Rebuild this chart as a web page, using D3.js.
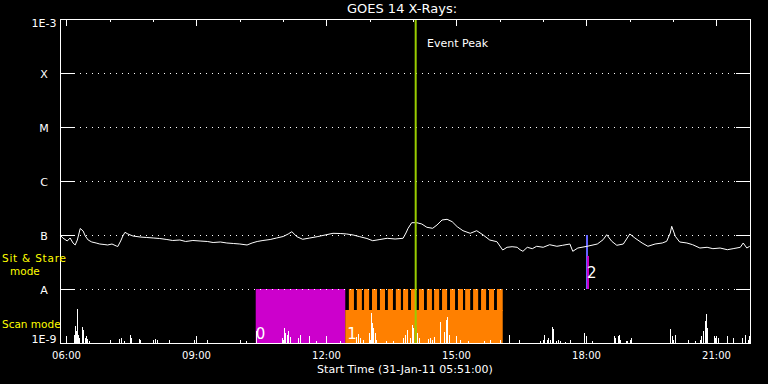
<!DOCTYPE html>
<html>
<head>
<meta charset="utf-8">
<script src="https://cdn.jsdelivr.net/npm/d3@7"></script>
<style>
  body { margin: 0; background: #000; }
  svg { display: block; font-family: "DejaVu Sans", sans-serif; }
</style>
</head>
<body>
<svg id="chart" width="768" height="384"></svg>
<script>
const startTime = new Date(2011, 0, 31, 5, 51, 0);
const spanMinutes = 955.4;

// GOES 14 long channel: minutes after start, flux in 1e-8 W m^-2
const xrayMin = [0,4,10,14,18,21,24,28,32,35,39,44,50,55,61,66,72,78,80,84,
  87,90,94,101,111,120,129,138,148,156,166,174,184,194,204,212,222,231,240,249,
  259,266,273,281,291,300,309,316,321,328,336,346,356,367,378,388,397,406,415,425,
  433,443,453,464,475,479,482,487,494,501,508,516,522,529,536,543,550,558,568,577,
  586,595,605,613,619,626,633,637,641,647,654,660,669,678,688,696,706,710,717,730,
  744,752,757,764,771,780,789,796,806,814,824,834,840,845,847,852,858,868,876,886,
  896,904,914,924,932,942,946,951,955];
const xrayFlux = [10.0,8.80,7.74,8.80,7.11,6.53,8.08,13.2,11.86,9.58,
  8.08,7.42,7.11,6.81,6.67,6.53,6.81,6.26,6.12,7.74,
  9.58,11.22,10.44,9.58,9.18,8.99,8.80,8.61,8.25,7.91,
  8.08,7.58,7.91,7.74,7.58,7.26,7.42,7.11,6.96,6.81,
  6.53,7.11,7.58,7.91,8.25,8.80,9.38,10.44,11.51,9.30,
  8.33,8.80,9.30,10.0,10.75,10.66,10.44,10.0,9.30,8.61,
  7.84,8.25,8.69,8.43,8.69,10.89,13.31,16.90,16.90,15.98,
  13.88,13.31,15.32,18.96,19.53,17.63,14.24,12.01,10.75,12.01,
  10.0,8.08,7.51,5.27,5.92,6.07,5.92,5.34,4.99,5.92,
  5.58,6.18,5.92,6.61,6.18,6.45,6.81,4.99,5.74,6.18,
  6.81,8.18,10.13,7.64,6.45,6.81,10.44,8.80,7.11,6.18,
  6.81,7.11,7.64,10.89,14.49,9.46,7.42,7.11,6.61,5.74,
  5.92,5.58,5.74,5.34,5.58,5.92,7.11,5.74,6.18];

// bottom strip spikes: minutes after start, height in % of one decade
const spikeMin = [19,21,22,24,25,27,31,32,34,36,38,40,
  82,84,88,97,98,109,111,132,134,151,186,203,257,272,
  308,310,312,314,316,318,330,332,345,355,388,
  410,413,416,419,428,431,432,434,436,438,452,461,
  475,478,480,484,487,489,495,497,510,512,515,518,
  526,532,534,536,538,554,565,587,595,622,636,
  664,670,674,676,678,681,683,687,690,693,699,706,
  726,736,767,769,772,774,776,784,785,790,
  845,847,852,870,879,886,888,891,893,894,896,
  905,907,911,923,932,945,948,952,954];
const spikeLevel = [15,31,22,63,15,9,30,24,9,13,7,4,
  7,9,4,15,9,7,6,7,6,6,6,6,4,22,
  9,28,19,15,22,11,9,15,13,4,4,
  11,17,9,6,19,56,37,28,19,6,4,4,
  9,15,24,9,33,28,19,9,7,9,6,11,
  39,20,43,48,15,6,4,4,6,15,6,
  4,15,6,9,6,30,26,4,6,4,2,6,
  19,4,13,9,13,15,6,4,4,9,
  26,13,15,6,4,6,13,22,41,54,28,
  13,9,9,13,9,9,15,6,13];

// observing programmes (minutes after start)
const obsLabel = ['0', '1'];
const obsStart = [271, 395];
const obsEnd = [395, 613];
const rasterStart = [400,411,421,432,443,454,465,475,486,497,508,518,529,540,551,561,572,583,594,605];
const rasterLength = 7;
const sitStareMin = 730;
const eventPeakMin = 492.5;

const levelValues = [1e-9, 1e-8, 1e-7, 1e-6, 1e-5, 1e-4, 1e-3];
const levelLabels = ['1E-9', 'A', 'B', 'C', 'M', 'X', '1E-3'];

const obsColor = ['#cc00cc', '#ff8000'];
const margin = { left: 60, right: 750, top: 19, bottom: 343 };

const svg = d3.select('#chart');
svg.append('rect').attr('width', 768).attr('height', 384).attr('fill', '#000');

const toDate = m => new Date(+startTime + m * 60000);

const x = d3.scaleTime()
  .domain([startTime, toDate(spanMinutes)])
  .range([margin.left, margin.right]);
const y = d3.scaleLog()
  .domain([1e-9, 1e-3])
  .range([margin.bottom, margin.top]);
const yScan = d3.scaleLinear()
  .domain([0, 100])
  .range([y(1e-9), y(1e-8)]);

const bandTop = y(1e-8), bandBot = y(1e-9);
const split = 21;

// scan mode blocks
const modes = svg.append('g');
modes.append('rect')
  .attr('x', x(toDate(obsStart[0]))).attr('y', bandTop)
  .attr('width', x(toDate(obsEnd[0])) - x(toDate(obsStart[0])))
  .attr('height', bandBot - bandTop)
  .attr('fill', obsColor[0]);
modes.append('rect')
  .attr('x', x(toDate(obsStart[1]))).attr('y', bandTop + split)
  .attr('width', x(toDate(obsEnd[1])) - x(toDate(obsStart[1])))
  .attr('height', bandBot - bandTop - split)
  .attr('fill', obsColor[1]);
modes.selectAll('rect.raster')
  .data(rasterStart)
  .enter().append('rect')
  .attr('class', 'raster')
  .attr('x', d => x(toDate(d)))
  .attr('y', bandTop)
  .attr('width', (d, i) => x(toDate(i === rasterStart.length - 1 ? obsEnd[1] : d + rasterLength)) - x(toDate(d)))
  .attr('height', split + 1)
  .attr('fill', obsColor[1]);

// sit & stare marker
const sx = Math.round(x(toDate(sitStareMin)));
svg.append('rect')
  .attr('x', sx - 1).attr('y', y(1e-7))
  .attr('width', 2).attr('height', y(1e-8) - y(1e-7))
  .attr('fill', '#6464ff');
svg.append('rect')
  .attr('x', sx).attr('y', y(1e-7) + split)
  .attr('width', 2).attr('height', y(1e-8) - y(1e-7) - split)
  .attr('fill', '#cc00cc');

// level grid lines
const grid = svg.append('g').attr('shape-rendering', 'crispEdges');
levelValues.slice(1, -1).forEach(v => {
  const yy = Math.round(y(v)) + 0.5;
  grid.append('line')
    .attr('x1', margin.left + 14).attr('x2', margin.right - 14)
    .attr('y1', yy).attr('y2', yy)
    .attr('stroke', '#fff').attr('stroke-dasharray', '1,5');
  grid.append('line')
    .attr('x1', margin.left).attr('x2', margin.left + 14)
    .attr('y1', yy).attr('y2', yy).attr('stroke', '#fff');
  grid.append('line')
    .attr('x1', margin.right - 14).attr('x2', margin.right)
    .attr('y1', yy).attr('y2', yy).attr('stroke', '#fff');
});

// spikes in the scan strip
svg.append('g').attr('shape-rendering', 'crispEdges')
  .selectAll('line')
  .data(spikeMin)
  .enter().append('line')
  .attr('x1', d => Math.round(x(toDate(d))) + 0.5)
  .attr('x2', d => Math.round(x(toDate(d))) + 0.5)
  .attr('y1', bandBot)
  .attr('y2', (d, i) => yScan(spikeLevel[i]))
  .attr('stroke', '#fff');

// GOES curve
const line = d3.line()
  .x((d, i) => x(toDate(xrayMin[i])))
  .y(d => y(d * 1e-8));
svg.append('path')
  .datum(xrayFlux)
  .attr('d', line)
  .attr('fill', 'none')
  .attr('stroke', '#fff')
  .attr('stroke-width', 1);

// event peak
const ex = x(toDate(eventPeakMin));
svg.append('line')
  .attr('x1', ex).attr('x2', ex)
  .attr('y1', margin.top).attr('y2', margin.bottom)
  .attr('stroke', '#99cc00').attr('stroke-width', 2);
svg.append('text')
  .attr('x', 427).attr('y', 47)
  .attr('fill', '#fff').attr('font-size', 11)
  .text('Event Peak');

// mode numbers
const digits = svg.append('g').attr('fill', '#fff').attr('font-size', 15);
digits.append('text').attr('x', x(toDate(obsStart[0]))).attr('y', 339).text(obsLabel[0]);
digits.append('text').attr('x', x(toDate(obsStart[1])) + 2).attr('y', 339).text(obsLabel[1]);
digits.append('text').attr('x', sx).attr('y', 278).text('2');

// frame
svg.append('rect')
  .attr('x', margin.left + 0.5).attr('y', margin.top + 0.5)
  .attr('width', margin.right - margin.left).attr('height', margin.bottom - margin.top)
  .attr('fill', 'none').attr('stroke', '#fff')
  .attr('shape-rendering', 'crispEdges');

// time ticks top and bottom
const ticks = svg.append('g').attr('shape-rendering', 'crispEdges').attr('stroke', '#fff');
x.ticks(d3.timeHour.every(1)).forEach(t => {
  const major = t.getHours() % 3 === 0;
  const len = major ? 7 : 3;
  const tx = Math.round(x(t)) + 0.5;
  ticks.append('line').attr('x1', tx).attr('x2', tx)
    .attr('y1', margin.top).attr('y2', margin.top + len);
  ticks.append('line').attr('x1', tx).attr('x2', tx)
    .attr('y1', margin.bottom).attr('y2', margin.bottom - len);
});

svg.append('g').selectAll('text')
  .data(x.ticks(d3.timeHour.every(3)))
  .enter().append('text')
  .attr('x', d => x(d))
  .attr('y', 359)
  .attr('text-anchor', 'middle')
  .attr('fill', '#fff').attr('font-size', 10)
  .text(d3.timeFormat('%H:%M'));

// level labels
const labelBase = [343, 294, 240, 186, 132, 78, 27];
svg.append('g').selectAll('text')
  .data(levelLabels)
  .enter().append('text')
  .attr('x', 44)
  .attr('y', (d, i) => labelBase[i])
  .attr('text-anchor', 'middle')
  .attr('fill', '#fff').attr('font-size', 11)
  .text(d => d);

// titles
svg.append('text')
  .attr('x', 402).attr('y', 13)
  .attr('text-anchor', 'middle')
  .attr('fill', '#fff').attr('font-size', 13)
  .text('GOES 14 X-Rays:');
svg.append('text')
  .attr('x', 405).attr('y', 373)
  .attr('text-anchor', 'middle')
  .attr('fill', '#fff').attr('font-size', 11)
  .text('Start Time (31-Jan-11 05:51:00)');

const side = svg.append('g').attr('fill', '#ffff00').attr('font-size', 10.5);
side.append('text').attr('x', 2).attr('y', 262)
  .attr('textLength', 64).attr('lengthAdjust', 'spacing').text('Sit & Stare');
side.append('text').attr('x', 10).attr('y', 275).text('mode');
side.append('text').attr('x', 2).attr('y', 328).text('Scan mode');
</script>
</body>
</html>
